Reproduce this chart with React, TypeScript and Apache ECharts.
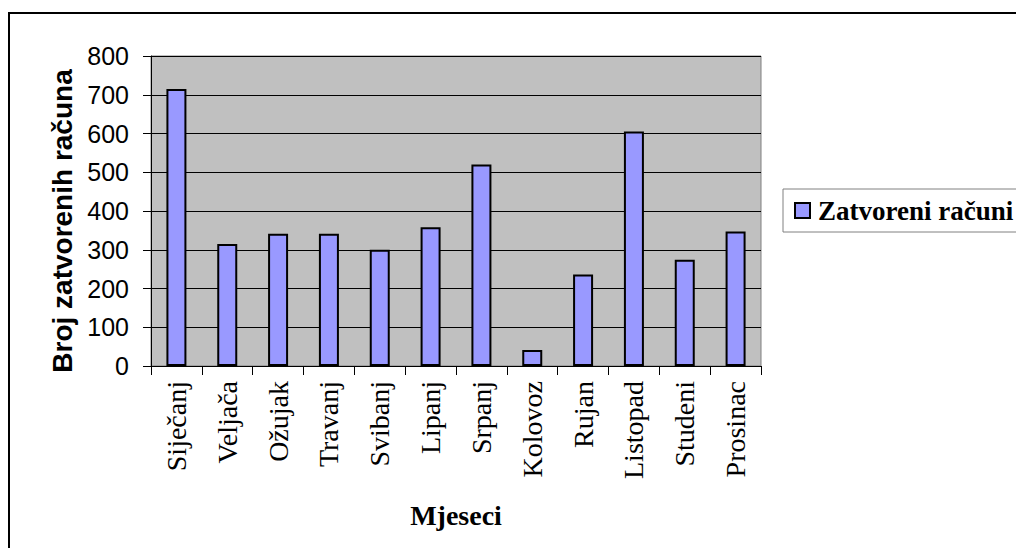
import React, { useEffect, useRef } from "react";
import * as echarts from "echarts";

const categories = [
  "Siječanj",
  "Veljača",
  "Ožujak",
  "Travanj",
  "Svibanj",
  "Lipanj",
  "Srpanj",
  "Kolovoz",
  "Rujan",
  "Listopad",
  "Studeni",
  "Prosinac",
];
const values = [715, 315, 341, 341, 300, 358, 520, 41, 236, 605, 274, 347];
const seriesName = "Zatvoreni računi";
const yAxisTitle = "Broj zatvorenih računa";
const xAxisTitle = "Mjeseci";
const yMin = 0;
const yMax = 800;
const yInterval = 100;

const SANS = '"Liberation Sans", Arial, sans-serif';
const SERIF = '"Liberation Serif", "Times New Roman", serif';

export default function App() {
  const ref = useRef<HTMLDivElement>(null);

  useEffect(() => {
    document.body.style.margin = "0";
    if (!ref.current) return;
    const chart = echarts.init(ref.current, null, { renderer: "svg" });
    chart.setOption({
      animation: false,
      backgroundColor: "#ffffff",
      grid: {
        left: 151,
        top: 56,
        right: 255,
        bottom: 182,
        show: true,
        backgroundColor: "#C0C0C0",
        borderColor: "#808080",
        borderWidth: 1,
      },
      legend: {
        show: true,
        left: 783,
        top: 189,
        orient: "horizontal",
        padding: [7, 14, 7, 11],
        backgroundColor: "#ffffff",
        borderColor: "#808080",
        borderWidth: 1,
        itemWidth: 15,
        itemHeight: 15,
        icon: "rect",
        data: [seriesName],
        textStyle: {
          fontFamily: SERIF,
          fontWeight: "bold",
          fontSize: 27,
          color: "#000",
          lineHeight: 29,
          padding: [0, 0, 0, 3],
        },
      },
      xAxis: {
        type: "category",
        data: categories,
        name: xAxisTitle,
        nameLocation: "middle",
        nameGap: 135,
        nameTextStyle: {
          fontFamily: SERIF,
          fontWeight: "bold",
          fontSize: 28,
          color: "#000",
        },
        axisLine: { show: true, lineStyle: { color: "#000", width: 1 } },
        axisTick: {
          show: true,
          length: 9,
          alignWithLabel: false,
          lineStyle: { color: "#000", width: 1 },
        },
        axisLabel: {
          rotate: 90,
          interval: 0,
          margin: 15,
          fontFamily: SERIF,
          fontSize: 28,
          color: "#000",
        },
        splitLine: { show: false },
      },
      yAxis: {
        type: "value",
        min: yMin,
        max: yMax,
        interval: yInterval,
        axisLine: { show: true, lineStyle: { color: "#000", width: 1 } },
        axisTick: {
          show: true,
          length: 8,
          lineStyle: { color: "#000", width: 1 },
        },
        axisLabel: {
          margin: 22,
          fontFamily: SANS,
          fontSize: 25,
          color: "#000",
        },
        splitLine: { show: true, lineStyle: { color: "#000", width: 1 } },
      },
      graphic: [
        {
          type: "rect",
          silent: true,
          z: -10,
          shape: { x: 9, y: 13, width: 1300, height: 900 },
          style: { fill: "none", stroke: "#000", lineWidth: 2 },
        },
        {
          type: "text",
          x: 62,
          y: 221,
          rotation: Math.PI / 2,
          style: {
            text: yAxisTitle,
            fontFamily: SANS,
            fontWeight: "bold",
            fontSize: 28,
            fill: "#000",
            textAlign: "center",
            textVerticalAlign: "middle",
          },
        },
      ],
      series: [
        {
          name: seriesName,
          type: "bar",
          data: values,
          barWidth: 20,
          itemStyle: {
            color: "#9999FF",
            borderColor: "#000",
            borderWidth: 2,
          },
        },
      ],
    });
    return () => chart.dispose();
  }, []);

  return <div ref={ref} style={{ width: 1016, height: 548 }} />;
}
